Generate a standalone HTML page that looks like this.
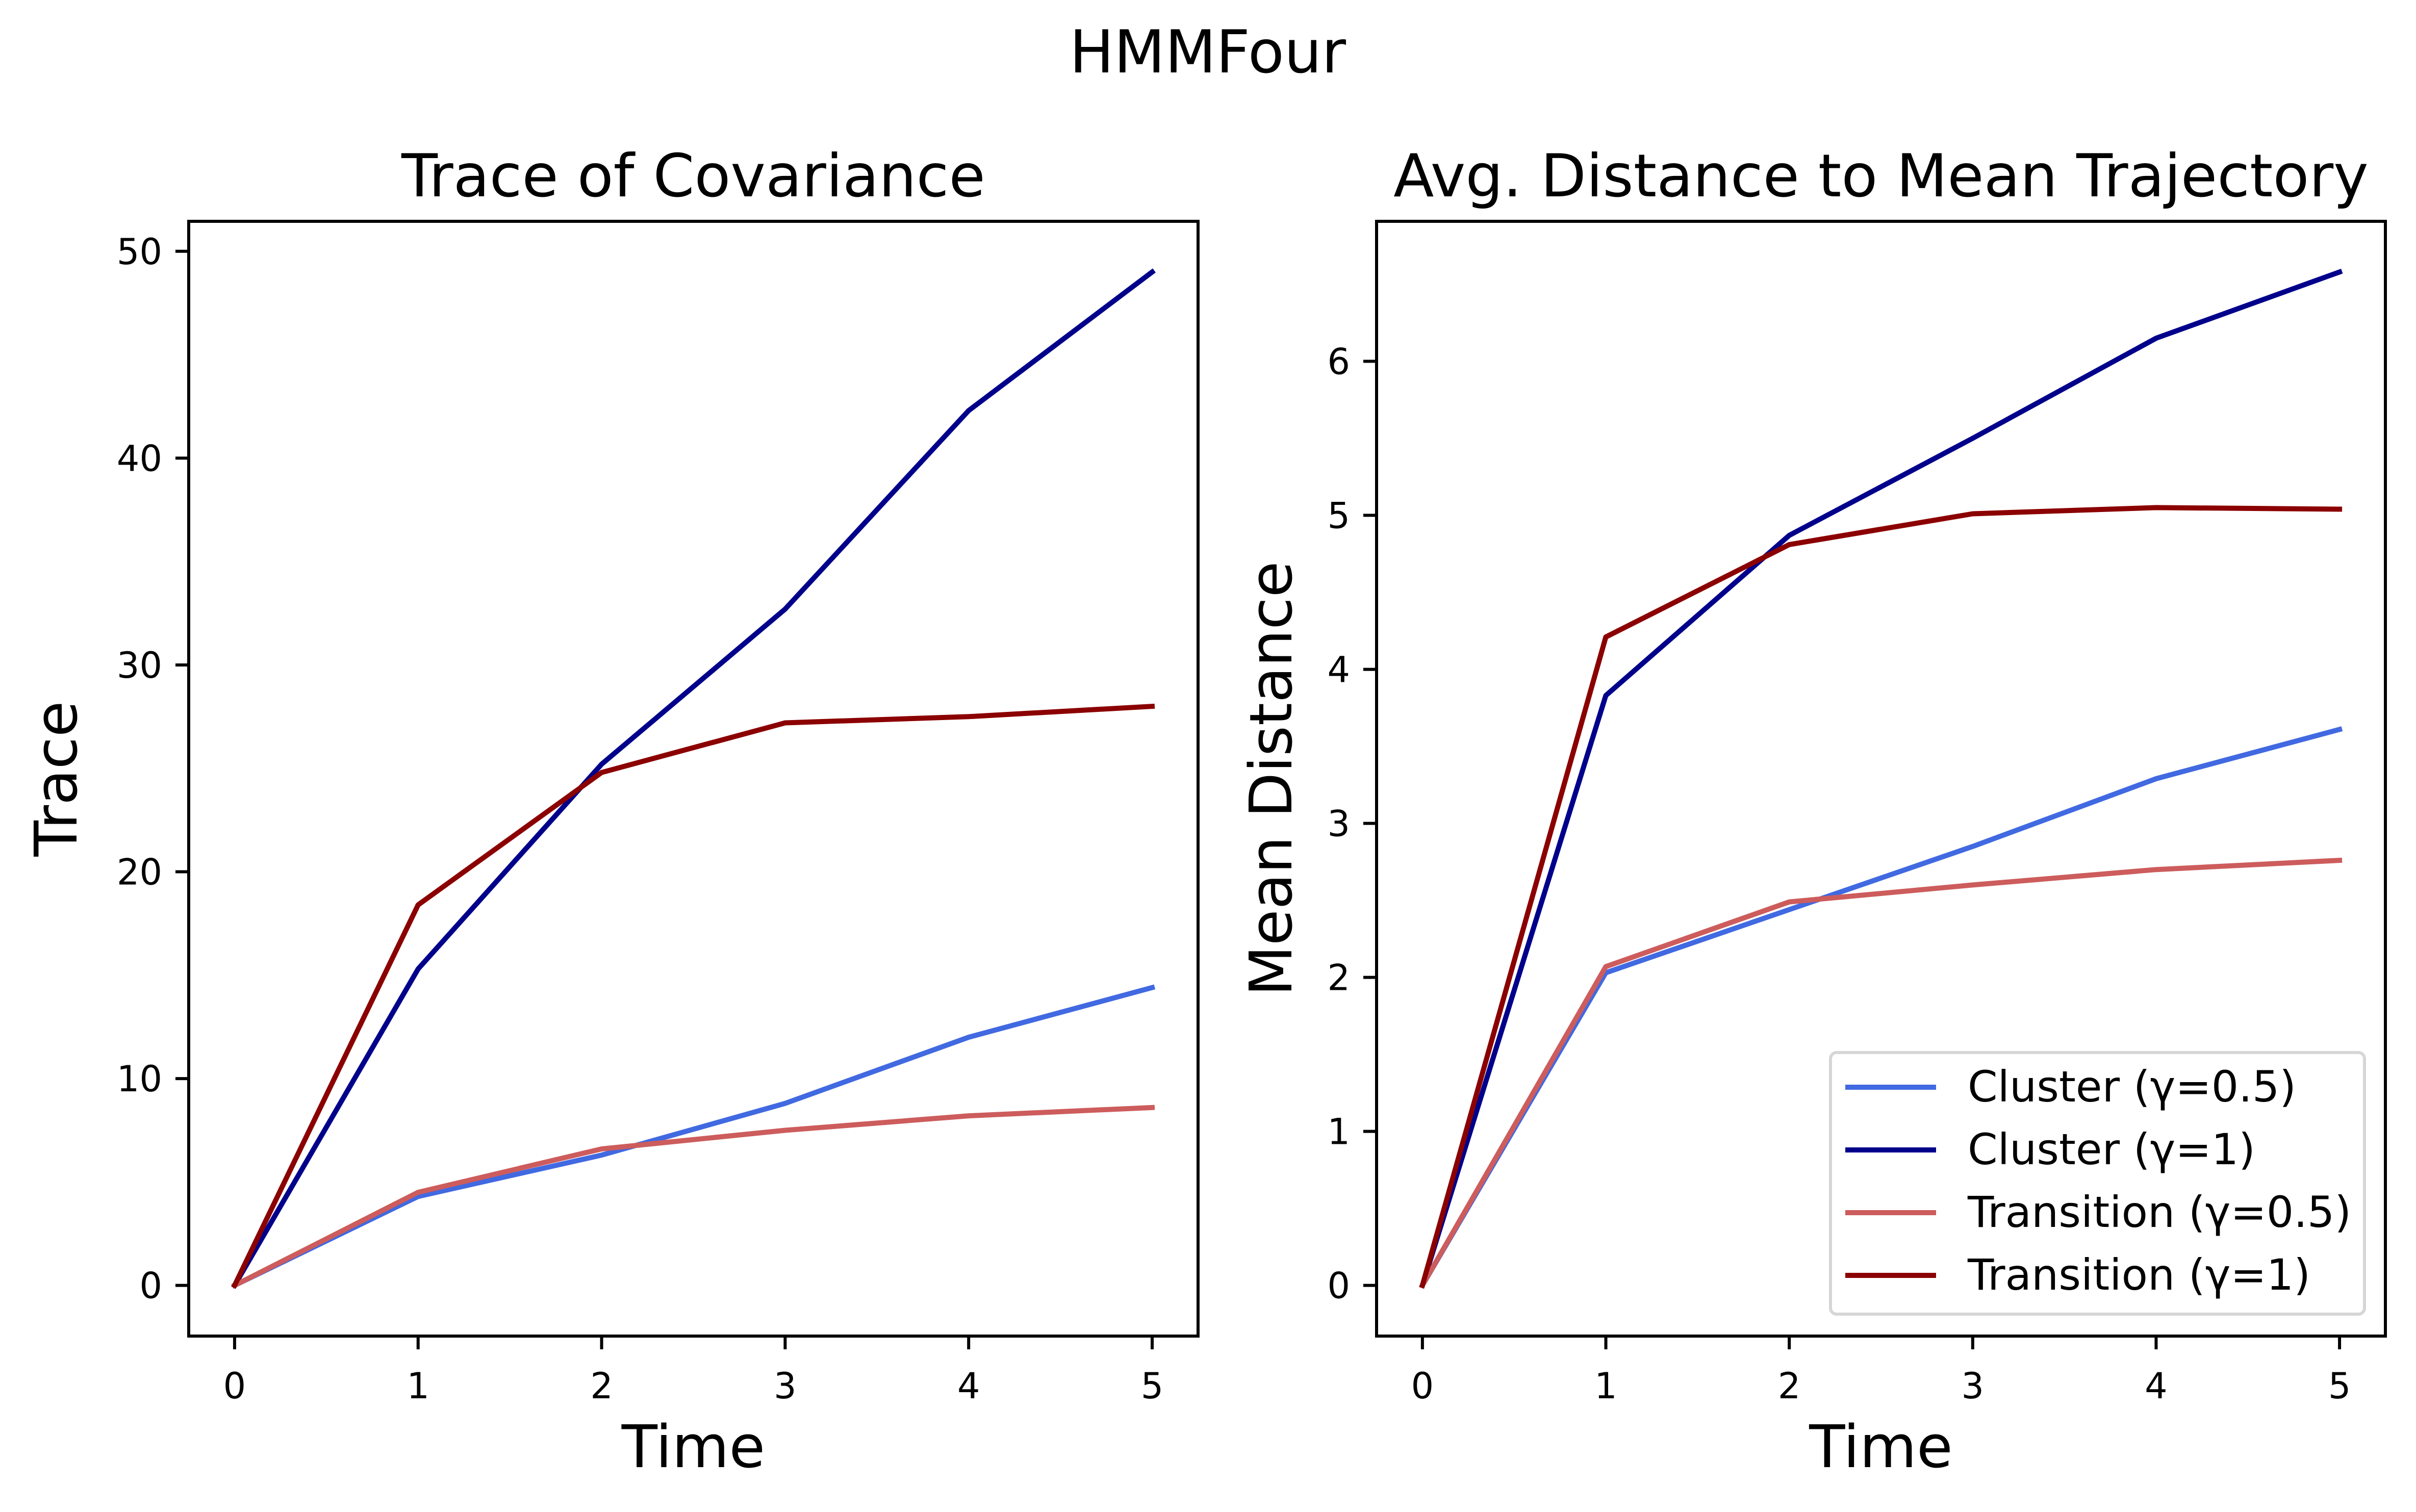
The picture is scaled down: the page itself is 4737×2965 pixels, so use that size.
<!DOCTYPE html>
<html><head><meta charset="utf-8"><style>
html,body{margin:0;padding:0;background:#fff;}
svg{display:block;font-family:"DejaVu Sans","Liberation Sans",sans-serif;}
</style></head><body>
<svg id="fig" width="4737" height="2965" viewBox="0 0 4737 2965" xmlns="http://www.w3.org/2000/svg">
<rect width="4737" height="2965" fill="#fff"/>
<text x="2368" y="142" font-size="116" text-anchor="middle">HMMFour</text>
<g id="left"></g>
<g id="right"></g>
</svg>
<script>
const times = [0, 1, 2, 3, 4, 5];
const seriesNames = ["Cluster (γ=0.5)", "Cluster (γ=1)", "Transition (γ=0.5)", "Transition (γ=1)"];
const seriesColors = ["#4169e1", "#00008b", "#cd5c5c", "#8b0000"];
const traceCluster05 = [0, 4.3, 6.3, 8.8, 12.0, 14.4];
const traceCluster1 = [0, 15.3, 25.2, 32.7, 42.3, 49.0];
const traceTrans05 = [0, 4.5, 6.6, 7.5, 8.2, 8.6];
const traceTrans1 = [0, 18.4, 24.8, 27.2, 27.5, 28.0];
const distCluster05 = [0, 2.03, 2.44, 2.85, 3.29, 3.61];
const distCluster1 = [0, 3.83, 4.87, 5.50, 6.15, 6.58];
const distTrans05 = [0, 2.07, 2.49, 2.60, 2.70, 2.76];
const distTrans1 = [0, 4.21, 4.81, 5.01, 5.05, 5.04];
const xTicks = [0, 1, 2, 3, 4, 5];
const traceTicks = [0, 10, 20, 30, 40, 50];
const distTicks = [0, 1, 2, 3, 4, 5, 6];

const NS = "http://www.w3.org/2000/svg";
function mk(parent, tag, attrs, text) {
  const e = document.createElementNS(NS, tag);
  for (const k in attrs) e.setAttribute(k, attrs[k]);
  if (text !== undefined) e.textContent = text;
  parent.appendChild(e);
  return e;
}
function drawChart(g, box, allSeries, yTicks, title, ylabel, ylabelX, legend) {
  let ymax = -Infinity, ymin = Infinity;
  allSeries.forEach(s => s.forEach(v => { ymax = Math.max(ymax, v); ymin = Math.min(ymin, v); }));
  const pad = (ymax - ymin) * 0.05;
  const y0 = ymin - pad, y1 = ymax + pad;
  const xs = v => box.l + (v + 0.25) / 5.5 * (box.r - box.l);
  const ys = v => box.b - (v - y0) / (y1 - y0) * (box.b - box.t);
  const cx = (box.l + box.r) / 2;
  let t = mk(g, "text", {x: cx, y: 385, "font-size": 116, "text-anchor": "middle"}, title);
  
  
  allSeries.forEach((s, i) => {
    const pts = s.map((v, j) => xs(times[j]).toFixed(1) + "," + ys(v).toFixed(1)).join(" ");
    const pl = mk(g, "polyline", {points: pts, fill: "none", stroke: seriesColors[i], "stroke-width": 10, "stroke-linejoin": "round", "stroke-linecap": "square"});
    
    
  });
  const frame = mk(g, "rect", {x: box.l, y: box.t, width: box.r - box.l, height: box.b - box.t, fill: "none", stroke: "#000", "stroke-width": 6});
  
  
  xTicks.forEach(v => {
    const x = xs(v);
    const tk = mk(g, "line", {x1: x, x2: x, y1: box.b, y2: box.b + 26, stroke: "#000", "stroke-width": 6});
    
    
    const lb = mk(g, "text", {x: x, y: box.b + 122, "font-size": 70, "text-anchor": "middle"}, String(v));
    
    
  });
  yTicks.forEach(v => {
    const y = ys(v);
    const tk = mk(g, "line", {x1: box.l - 26, x2: box.l, y1: y, y2: y, stroke: "#000", "stroke-width": 6});
    
    
    const lb = mk(g, "text", {x: box.l - 52, y: y + 25, "font-size": 70, "text-anchor": "end"}, String(v));
    
    
  });
  const xl = mk(g, "text", {x: cx, y: 2877, "font-size": 115, "text-anchor": "middle"}, "Time");
  
  
  const ym = (box.t + box.b) / 2;
  const yl = mk(g, "text", {x: ylabelX, y: ym, "font-size": 115, "text-anchor": "middle", transform: "rotate(-90 " + ylabelX + " " + ym + ")"}, ylabel);
  
  
  if (legend) {
    const lg = mk(g, "g", {});
    
    
    mk(lg, "rect", {x: 3589, y: 2064, width: 1047, height: 513, rx: 12, fill: "#fff", "fill-opacity": 0.8, stroke: "#d6d6d6", "stroke-width": 6});
    seriesNames.forEach((n, i) => {
      const yy = 2132 + i * 123;
      const e = mk(lg, "g", {});
      
      
      mk(e, "line", {x1: 3618, x2: 3796, y1: yy, y2: yy, stroke: seriesColors[i], "stroke-width": 10});
      mk(e, "text", {x: 3858, y: yy + 28, "font-size": 84}, n);
    });
  }
}
drawChart(document.getElementById("left"), {l: 370, r: 2349, t: 434, b: 2620},
  [traceCluster05, traceCluster1, traceTrans05, traceTrans1], traceTicks,
  "Trace of Covariance", "Trace", 150, false);
drawChart(document.getElementById("right"), {l: 2699, r: 4677, t: 434, b: 2620},
  [distCluster05, distCluster1, distTrans05, distTrans1], distTicks,
  "Avg. Distance to Mean Trajectory", "Mean Distance", 2532, true);
</script>
</body></html>
